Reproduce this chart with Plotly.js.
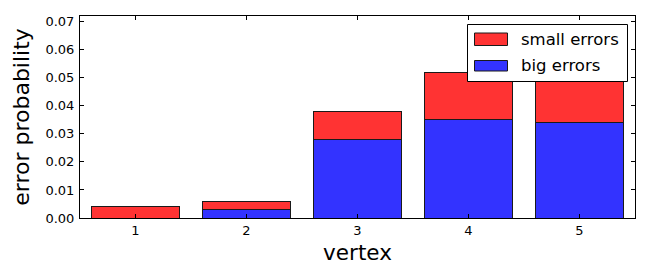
<!DOCTYPE html>
<html>
<head>
<meta charset="utf-8">
<script src="https://cdn.plot.ly/plotly-3.0.1.min.js"></script>
<style>html,body{margin:0;padding:0;background:#fff;}#chart{width:650px;height:280px;}</style>
</head>
<body>
<div id="chart"></div>
<script>
const vertices = [1, 2, 3, 4, 5];
const bigErrors = [0.0, 0.003, 0.028, 0.035, 0.034];
const smallErrors = [0.004, 0.003, 0.010, 0.017, 0.020];
const yTicks = [0, 0.01, 0.02, 0.03, 0.04, 0.05, 0.06, 0.07];
const seriesNames = ['small errors', 'big errors'];

const RED = '#ff3333', BLUE = '#3333ff';
const font = 'DejaVu Sans, sans-serif';

const traces = [
  {type: 'bar', x: vertices, y: bigErrors, name: seriesNames[1], width: 0.8,
   marker: {color: BLUE, line: {color: '#1a1a1a', width: 1}}, showlegend: false, hoverinfo: 'none'},
  {type: 'bar', x: vertices, y: smallErrors, name: seriesNames[0], width: 0.8,
   marker: {color: RED, line: {color: '#1a1a1a', width: 1}}, showlegend: false, hoverinfo: 'none'}
];

// custom legend (matplotlib style)
const W = 650 - 80 - 15, H = 280 - 16 - 62;
const px = (v) => v / W, py = (v) => v / H;
const lx0 = 467.5 - 80, lx1 = 627.5 - 80, ly0 = 24.5 - 16, ly1 = 81.5 - 16;
const shapes = [
  {type: 'rect', xref: 'paper', yref: 'paper', x0: px(lx0), x1: px(lx1), y0: 1 - py(ly1), y1: 1 - py(ly0),
   line: {color: '#000', width: 1}, fillcolor: '#fff'},
  {type: 'rect', xref: 'paper', yref: 'paper', x0: px(474.5 - 80), x1: px(507.5 - 80), y0: 1 - py(45.5 - 16), y1: 1 - py(33 - 16),
   line: {color: '#1a1a1a', width: 1}, fillcolor: RED},
  {type: 'rect', xref: 'paper', yref: 'paper', x0: px(474.5 - 80), x1: px(507.5 - 80), y0: 1 - py(71 - 16), y1: 1 - py(60.5 - 16),
   line: {color: '#1a1a1a', width: 1}, fillcolor: BLUE}
];
const annotations = [
  {xref: 'paper', yref: 'paper', x: px(519 - 80), y: 1 - py(39 - 16), xanchor: 'left', yanchor: 'middle',
   text: seriesNames[0], showarrow: false, font: {family: font, size: 16.5, color: '#000'}},
  {xref: 'paper', yref: 'paper', x: px(519 - 80), y: 1 - py(65.5 - 16), xanchor: 'left', yanchor: 'middle',
   text: seriesNames[1], showarrow: false, font: {family: font, size: 16.5, color: '#000'}}
];

const layout = {
  width: 650, height: 280,
  margin: {l: 80, r: 15, t: 16, b: 62},
  paper_bgcolor: '#fff', plot_bgcolor: '#fff',
  barmode: 'stack',
  showlegend: false,
  font: {family: font, color: '#000'},
  xaxis: {
    range: [0.5, 5.5], tickvals: vertices, ticktext: vertices.map(String),
    ticks: 'inside', ticklen: 4, tickcolor: '#000', mirror: 'ticks',
    showline: true, linecolor: '#000', linewidth: 1, showgrid: false, zeroline: false,
    tickfont: {family: font, size: 13, color: '#000'},
    title: {text: 'vertex', font: {family: font, size: 21.5, color: '#000'}, standoff: 8}
  },
  yaxis: {
    range: [0, 0.072], tickvals: yTicks, tickformat: '.2f',
    ticks: 'inside', ticklen: 4, tickcolor: '#000', mirror: 'ticks',
    showline: true, linecolor: '#000', linewidth: 1, showgrid: false, zeroline: false,
    tickfont: {family: font, size: 13, color: '#000'}, ticklabelstandoff: 2,
    title: {text: 'error probability', font: {family: font, size: 22, color: '#000'}, standoff: 9}
  },
  shapes: shapes,
  annotations: annotations
};

Plotly.newPlot('chart', traces, layout, {staticPlot: true, displayModeBar: false});
</script>
</body>
</html>
